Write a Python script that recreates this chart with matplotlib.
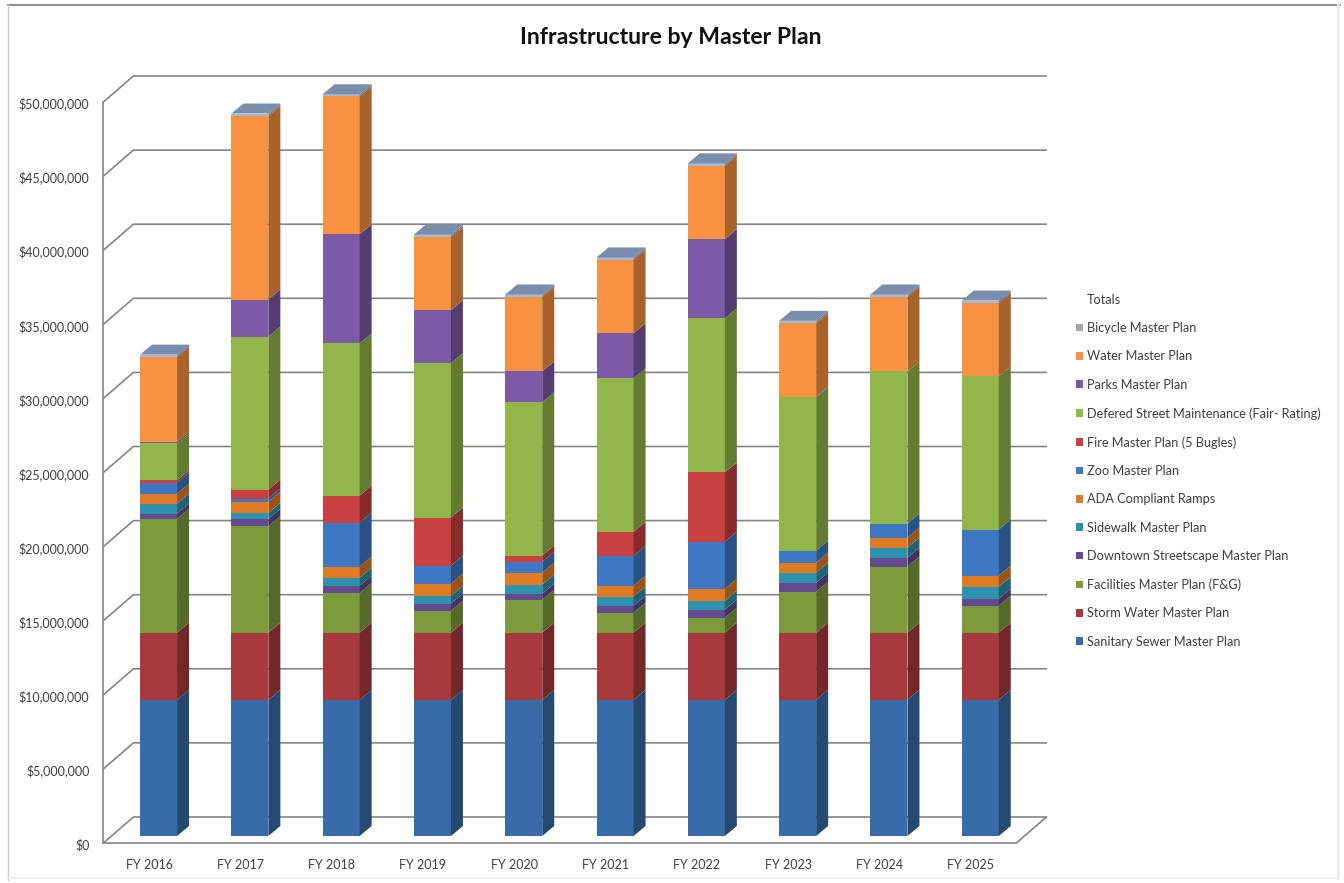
import matplotlib
matplotlib.use("Agg")
import matplotlib.pyplot as plt
import numpy as np
from matplotlib.colors import to_rgb
from matplotlib.lines import Line2D
from matplotlib.patches import Patch
from matplotlib.ticker import FuncFormatter
from matplotlib.transforms import ScaledTranslation

plt.rcParams['font.family'] = ['Lato', 'DejaVu Sans']

years = ["FY 2016", "FY 2017", "FY 2018", "FY 2019", "FY 2020",
         "FY 2021", "FY 2022", "FY 2023", "FY 2024", "FY 2025"]

# all amounts in millions of dollars
sanitary = [9.19] * 10
storm = [4.53] * 10
facilities = [7.70, 7.18, 2.68, 1.48, 2.23, 1.35, 1.01, 2.77, 4.46, 1.82]
downtown = [0.34, 0.50, 0.50, 0.48, 0.40, 0.47, 0.54, 0.60, 0.60, 0.47]
sidewalk = [0.67, 0.40, 0.53, 0.52, 0.61, 0.61, 0.61, 0.68, 0.68, 0.81]
ada = [0.67, 0.77, 0.75, 0.83, 0.81, 0.75, 0.81, 0.68, 0.68, 0.75]
zoo = [0.75, 0.20, 2.97, 1.21, 0.73, 2.02, 3.17, 0.81, 0.94, 3.11]
fire = [0.15, 0.61, 1.82, 3.25, 0.42, 1.62, 4.67, 0, 0, 0]
defered = [2.49, 10.32, 10.27, 10.41, 10.34, 10.34, 10.40, 10.34, 10.27, 10.33]
parks = [0.11, 2.50, 7.36, 3.57, 2.09, 3.04, 5.34, 0.05, 0, 0]
water = [5.73, 12.40, 9.30, 4.97, 5.04, 4.97, 4.97, 4.96, 5.04, 4.97]
bicycle = [0.15] * 10

series = [
    ("Sanitary Sewer Master Plan", sanitary, "#386CA8"),
    ("Storm Water Master Plan", storm, "#A8393C"),
    ("Facilities Master Plan (F&G)", facilities, "#7D9B3D"),
    ("Downtown Streetscape Master Plan", downtown, "#654A90"),
    ("Sidewalk Master Plan", sidewalk, "#2E92AE"),
    ("ADA Compliant Ramps", ada, "#DF7B25"),
    ("Zoo Master Plan", zoo, "#3F78C2"),
    ("Fire Master Plan (5 Bugles)", fire, "#C8403F"),
    ("Defered Street Maintenance (Fair- Rating)", defered, "#93B64A"),
    ("Parks Master Plan", parks, "#7D5AA6"),
    ("Water Master Plan", water, "#F79240"),
    ("Bicycle Master Plan", bicycle, "#A3B9D8"),
]

W, H = 1344, 883
fig = plt.figure(figsize=(W / 100, H / 100), dpi=100)
left, right, top, bottom = 103.4, 1016.4, 102, 843
ax = fig.add_axes([left / W, 1 - bottom / H, (right - left) / W, (bottom - top) / H])
ax.set_xlim(-0.5, 9.5)
ax.set_ylim(0, 50)
ax.patch.set_visible(False)
for s in ax.spines.values():
    s.set_visible(False)

# pixel sizes converted to data units for the oblique projection
px_x = 10 / (right - left)
px_y = 50 / (bottom - top)
wall_dx, wall_dy = 30 * px_x, 26 * px_y
bar_dx, bar_dy = 9.5 * px_x, 7 * px_y
bar_w = 37 * px_x
side_dx, side_dy = 12 * px_x, 10 * px_y
x0, x1 = -0.5, 9.5

# walls and floor
grid = dict(color="#858585", lw=1.2, zorder=0, clip_on=False, solid_capstyle="round")
ax.plot([x0, x0], [0, 50], **grid)
for v in range(0, 55, 5):
    ax.plot([x0, x0 + wall_dx, x1 + wall_dx], [v, v + wall_dy, v + wall_dy], **grid)
ax.plot([x0, x1, x1 + wall_dx], [0, 0, wall_dy], **grid)


def shade(color, f):
    return tuple(c * f for c in to_rgb(color))


xs = np.arange(len(years)) + bar_dx
base = np.zeros(len(years)) + bar_dy
for name, vals, color in series:
    vals = np.array(vals)
    ax.bar(xs, vals, bar_w, bottom=base, color=color, linewidth=0, zorder=2, clip_on=False)
    for x, b, v in zip(xs, base, vals):
        if v == 0:
            continue
        xr = x + bar_w / 2
        ax.fill([xr, xr + side_dx, xr + side_dx, xr],
                [b, b + side_dy, b + v + side_dy, b + v],
                color=shade(color, 0.68), linewidth=0, zorder=2, clip_on=False)
    base = base + vals

# top caps
for x, b in zip(xs, base):
    xl, xr = x - bar_w / 2, x + bar_w / 2
    ax.fill([xl, xr, xr + side_dx, xl + side_dx], [b, b, b + side_dy, b + side_dy],
            color="#7B8DAD", linewidth=0, zorder=2, clip_on=False)

ax.set_xticks(np.arange(len(years)), years)
ax.set_yticks(range(0, 55, 5))
ax.yaxis.set_major_formatter(FuncFormatter(lambda v, p: f"${int(v) * 1000000:,}"))
ax.tick_params(axis="both", length=0, labelsize=9, labelcolor="#404040")
ax.tick_params(axis="y", pad=10)
ax.tick_params(axis="x", pad=11.3)
nudge = ScaledTranslation(0, -1 / 100, fig.dpi_scale_trans)
for lab in ax.get_yticklabels():
    lab.set_transform(lab.get_transform() + nudge)

fig.text(671 / W, 1 - 37 / H, "Infrastructure by Master Plan", ha="center", va="center",
         fontsize=16.6, fontweight="bold", color="#111111")

# legend reads top-down in reverse stacking order
handles = [Patch(color="#A6A6A6" if n == "Bicycle Master Plan" else c, label=n, linewidth=0)
           for n, v, c in reversed(series)]
leg = fig.legend(handles=handles, loc="upper left",
                 bbox_to_anchor=(1071 / W, 1 - 317 / H), frameon=False,
                 fontsize=9.2, labelcolor="#404040", handlelength=0.55, handleheight=0.55,
                 handletextpad=0.3, labelspacing=1.28, borderpad=0.4, borderaxespad=0)
fig.text(1087 / W, 1 - 299.5 / H, "Totals", ha="left", va="center", fontsize=9.2, color="#404040")

# outer chart frame, only the top edge is strong
frame = [((8, 1340), (4.5, 4.5), "#7A7A7A", 1.2),
         ((7.5, 7.5), (4.5, 880), "#C8C8C8", 1.0),
         ((1338, 1338), (4.5, 878), "#EBEBEB", 2.0),
         ((8, 1338), (878, 878), "#EFEFEF", 1.5)]
for fx, fy, col, lw in frame:
    fig.add_artist(Line2D([p / W for p in fx], [1 - p / H for p in fy], color=col, lw=lw))

fig.savefig("out.png", dpi=100)
